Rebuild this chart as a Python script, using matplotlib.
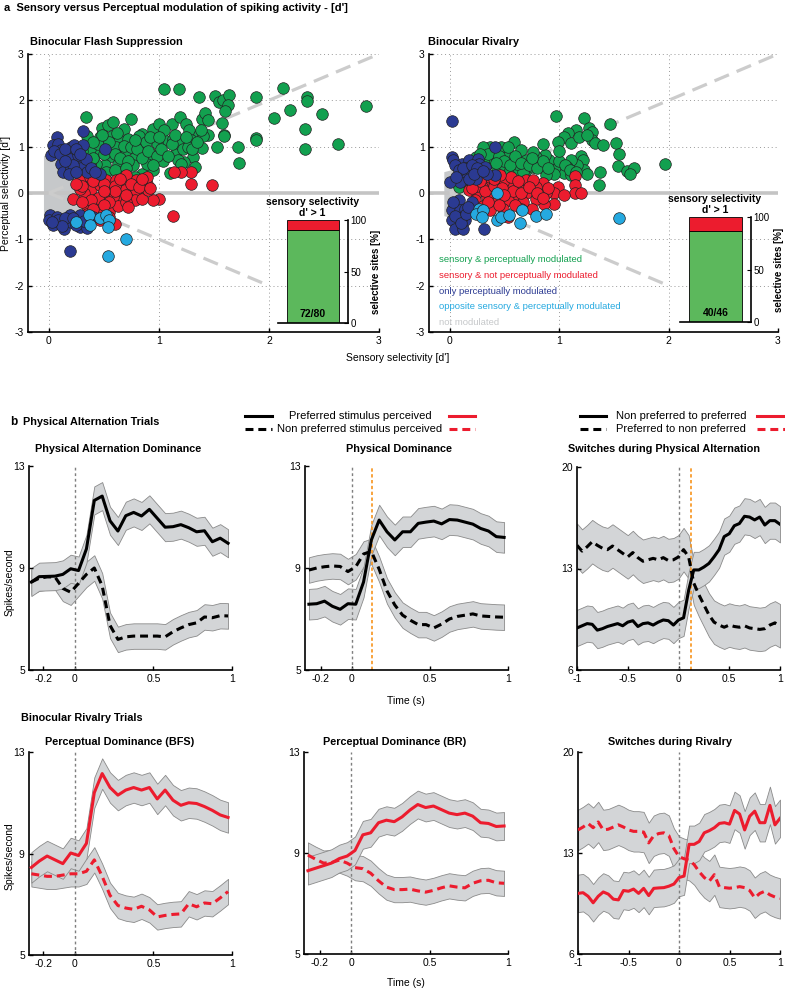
import numpy as np
import matplotlib
matplotlib.use("Agg")
import matplotlib.pyplot as plt
from matplotlib.lines import Line2D

plt.rcParams['font.family'] = ['Liberation Sans', 'DejaVu Sans']
plt.rcParams['font.size'] = 7

# ---------------- panel a data (d') ----------------
bfs_green_x = [1.045, 1.18, 1.36, 1.51, 1.55, 1.58, 1.64, 1.63, 1.6, 1.88, 2.13, 2.35, 2.35, 2.19, 2.48, 2.88,
               2.05, 2.33, 0.34, 0.48, 0.54, 0.58, 0.68, 0.75, 0.85, 0.95, 1.0, 1.12, 1.19, 1.25, 1.27, 1.39,
               1.42, 1.45, 1.57, 1.59, 1.88, 1.36, 1.45, 2.63, 2.33, 1.88, 1.72, 1.73, 1.53, 1.59, 1.39, 1.31,
               1.23, 1.16, 1.10, 1.05, 0.98, 0.93, 0.85, 0.95, 0.89, 0.79, 0.76, 0.70, 0.63, 0.55, 0.51, 0.46,
               0.43, 0.37, 0.35, 0.46, 0.57, 0.64, 0.72, 0.82, 1.13, 1.19, 1.29, 1.40, 1.17, 1.33, 0.64, 0.52,
               0.78, 1.2, 1.04, 0.82, 0.61, 0.37,
               0.4, 0.45, 0.5, 0.55, 0.6, 0.65, 0.68, 0.72, 0.75, 0.8, 0.85, 0.88, 0.9, 0.98, 1.02, 1.08,
               1.12, 1.15, 1.22, 1.26, 1.3, 1.35, 1.38, 1.05, 0.92, 0.78, 0.62, 0.48, 0.4, 0.95, 0.6, 0.7,
               1.0, 1.25, 0.3]
bfs_green_y = [2.25, 2.25, 2.08, 2.1, 1.96, 2.0, 2.12, 1.9, 1.77, 2.08, 2.26, 2.08, 1.99, 1.79, 1.7, 1.88,
               1.61, 1.38, 1.64, 1.4, 1.47, 1.54, 1.38, 1.59, 1.27, 1.38, 1.48, 1.48, 1.64, 1.48, 1.36, 1.59,
               1.72, 1.58, 1.52, 1.25, 1.18, 1.25, 1.25, 1.05, 0.94, 1.15, 1.0, 0.65, 0.99, 1.22, 0.98, 0.78,
               0.67, 0.91, 0.43, 1.14, 1.08, 0.85, 0.42, 0.49, 0.63, 0.81, 0.6, 0.92, 0.63, 0.78, 0.6, 0.88,
               0.63, 0.96, 1.22, 1.21, 1.24, 1.14, 1.17, 1.24, 1.17, 1.06, 1.14, 1.24, 0.72, 0.56, 0.45, 0.45,
               0.35, 0.63, 0.7, 1.03, 0.99, 0.63,
               0.75, 1.05, 0.85, 1.1, 0.85, 0.75, 1.02, 0.68, 1.0, 0.95, 0.75, 1.1, 0.9, 0.8, 0.95, 0.8,
               1.05, 1.25, 0.95, 1.0, 0.95, 1.1, 1.35, 1.35, 1.2, 1.15, 1.3, 1.25, 1.1, 0.6, 0.5, 0.55,
               1.2, 1.2, 0.9]
bfs_red_x = [1.29, 1.2, 1.14, 1.29, 1.48, 1.0, 0.95, 1.13, 0.22, 0.34, 0.38, 0.46, 0.55, 0.63, 0.70, 0.79,
             0.89, 0.85, 0.75, 0.66, 0.58, 0.49, 0.42, 0.35, 0.43, 0.49, 0.55, 0.46, 0.6, 0.55, 0.29, 0.37,
             0.46, 0.52, 0.61, 0.69, 0.79, 0.78, 0.85, 0.32, 0.28, 0.63, 0.70, 0.35, 0.9, 0.70, 0.89,
             0.3, 0.4, 0.5, 0.6, 0.65, 0.75, 0.82, 0.92, 0.55, 0.45, 0.38, 0.7, 0.6, 0.5, 0.4, 0.3,
             0.25, 0.85, 0.72, 0.5]
bfs_red_y = [0.45, 0.45, 0.45, 0.2, 0.17, -0.12, -0.16, -0.5, -0.14, 0.2, 0.09, 0.17, 0.09, 0.02, 0.17, 0.27,
             0.2, 0.02, -0.05, -0.12, -0.09, -0.05, -0.16, -0.27, -0.3, -0.37, -0.4, -0.59, -0.66, -0.52, 0.31, 0.35,
             0.31, 0.27, 0.27, 0.06, 0.06, -0.16, -0.14, -0.01, 0.09, -0.27, -0.19, -0.45, 0.06, 0.38, 0.35,
             0.15, 0.25, 0.2, 0.15, 0.3, 0.2, 0.12, 0.1, -0.2, -0.1, -0.15, -0.05, 0.05, 0.05, -0.35, -0.2,
             0.2, 0.3, -0.3, -0.25]
bfs_blue_x = [0.07, 0.31, 0.04, 0.08, 0.02, 0.11, 0.2, 0.23, 0.31, 0.51, 0.17, 0.19, 0.11, 0.13, 0.2, 0.28,
              0.29, 0.35, 0.46, 0.26, 0.34, 0.01, 0.0, 0.07, 0.11, 0.14, 0.2, 0.28, 0.28, 0.19, 0.04, 0.19,
              0.35, 0.4,
              0.05, 0.1, 0.15, 0.25, 0.28, 0.22, 0.15, 0.18, 0.25, 0.38, 0.42, 0.08, 0.15, 0.22, 0.12, 0.25,
              0.32, 0.03]
bfs_blue_y = [1.21, 1.34, 1.03, 1.06, 0.81, 0.92, 0.99, 1.03, 1.03, 0.96, 0.85, 0.74, 0.63, 0.45, 0.53, 0.63,
              0.53, 0.45, 0.42, 0.81, 0.74, -0.48, -0.59, -0.52, -0.66, -0.77, -0.63, -0.73, -0.48, -0.48, -0.7, -1.25,
              -0.75, -0.52,
              0.9, 0.85, 0.95, 0.95, 0.85, 0.6, 0.7, 0.4, 0.45, 0.55, 0.45, -0.58, -0.55, -0.55, -0.72, -0.7,
              -0.6, -0.62]
bfs_cyan_x = [0.25, 0.36, 0.37, 0.46, 0.52, 0.55, 0.54, 0.70, 0.54]
bfs_cyan_y = [-0.63, -0.48, -0.7, -0.53, -0.48, -0.59, -0.73, -1.0, -1.35]
bfs_gray_x = [-0.045, 0.05, 0.15, 0.3, 0.33, 0.3, 0.2, 0.05, -0.045]
bfs_gray_y = [0.8, 0.85, 0.5, 0.3, 0.0, -0.35, -0.5, -0.55, -0.5]
bfs_counts = [72, 80]

br_green_x = [0.97, 1.23, 1.46, 1.27, 1.30, 1.15, 1.08, 1.04, 1.11, 0.99, 1.30, 1.33, 1.40, 1.52, 1.55, 1.54,
              1.62, 1.68, 1.65, 1.97, 1.37, 1.36, 1.20, 1.22, 1.23, 1.25, 1.16, 1.11, 1.07, 1.04, 0.96, 0.95,
              0.91, 0.87, 0.85, 0.79, 0.76, 0.70, 0.70, 0.76, 0.59, 0.65, 0.56, 0.52, 0.47, 0.47, 0.37, 0.30,
              0.40, 0.24, 0.34, 0.43, 0.50, 0.55, 0.63, 0.67, 0.84, 0.88, 0.61, 0.08, 1.11, 0.37,
              0.3, 0.35, 0.45, 0.5, 0.55, 0.6, 0.65, 0.72, 0.8, 0.85, 0.9, 1.0, 1.05, 1.1, 1.15, 0.42,
              0.28, 0.53, 0.75, 1.18, 1.25, 1.0]
br_green_y = [1.67, 1.61, 1.5, 1.41, 1.32, 1.36, 1.3, 1.21, 1.07, 1.1, 1.14, 1.07, 1.03, 1.07, 0.85, 0.58,
              0.48, 0.53, 0.4, 0.63, 0.45, 0.17, 0.79, 0.71, 0.49, 0.42, 0.6, 0.71, 0.56, 0.44, 0.56, 0.42,
              0.71, 0.81, 1.05, 0.78, 0.89, 0.71, 0.49, 0.56, 1.1, 0.92, 0.71, 0.85, 0.71, 0.99, 0.99, 0.99,
              0.85, 0.78, 0.63, 0.56, 0.6, 0.49, 0.49, 0.45, 0.56, 0.38, 0.63, 0.14, 0.38, 0.78,
              0.7, 0.85, 0.8, 0.7, 0.6, 0.8, 0.65, 0.6, 0.55, 0.7, 0.55, 0.7, 0.6, 0.5, 0.45, 0.65,
              0.85, 1.0, 0.75, 1.2, 1.25, 0.9]
br_red_x = [1.14, 1.14, 1.14, 1.2, 0.99, 0.95, 0.95, 0.86, 0.88, 0.85, 0.79, 0.79, 0.75, 0.70, 0.67, 0.63,
            0.59, 0.55, 0.53, 0.49, 0.44, 0.41, 0.37, 0.34, 0.29, 0.24, 0.18, 0.23, 0.30, 0.37, 0.49, 0.53,
            0.70, 0.76, 0.56, 0.46, 0.37, 0.27, 0.2, 0.65, 1.04,
            0.25, 0.32, 0.4, 0.48, 0.58, 0.65, 0.72, 0.8, 0.9, 0.5, 0.45, 0.6, 0.35, 0.28, 0.62, 0.4,
            0.85, 0.2]
br_red_y = [0.36, 0.17, -0.01, 0.0, 0.14, -0.01, -0.23, -0.23, -0.01, 0.22, 0.13, -0.12, -0.34, -0.01, -0.19, 0.13,
            -0.05, 0.13, -0.16, 0.24, 0.02, -0.16, 0.17, -0.09, 0.13, -0.01, 0.06, -0.16, -0.27, -0.37, -0.34, -0.52,
            0.27, 0.27, 0.35, 0.38, 0.35, 0.35, 0.24, -0.34, -0.05,
            0.15, 0.05, 0.15, 0.1, 0.05, 0.0, 0.12, 0.0, 0.1, -0.05, -0.25, -0.25, -0.2, 0.25, 0.25, 0.3,
            -0.1, 0.1]
br_blue_x = [0.02, 0.41, 0.02, 0.03, 0.11, 0.18, 0.26, 0.27, 0.32, 0.15, 0.11, 0.18, 0.23, 0.24, 0.14, 0.09,
             0.0, 0.41, 0.34, 0.02, 0.08, 0.09, 0.02, 0.05, 0.12, 0.14, 0.11, 0.2, 0.31, 0.14,
             0.05, 0.08, 0.12, 0.2, 0.25, 0.18, 0.06, 0.22, 0.3, 0.05, 0.1, 0.15, 0.03, 0.17]
br_blue_y = [1.55, 0.99, 0.78, 0.71, 0.63, 0.71, 0.74, 0.63, 0.56, 0.53, 0.42, 0.42, 0.49, 0.31, 0.31, 0.24,
             0.24, 0.38, 0.42, -0.37, -0.16, -0.37, -0.59, -0.77, -0.77, -0.59, -0.52, -0.19, -0.77, -0.34,
             0.6, 0.5, 0.55, 0.6, 0.55, 0.3, 0.35, 0.4, 0.48, -0.5, -0.65, -0.45, -0.2, -0.3]
br_cyan_x = [0.43, 0.27, 0.24, 0.30, 0.29, 0.43, 0.47, 0.54, 0.64, 0.66, 0.79, 0.88, 1.55]
br_cyan_y = [-0.01, -0.34, -0.45, -0.37, -0.52, -0.59, -0.52, -0.48, -0.65, -0.36, -0.5, -0.46, -0.53]
br_gray_x = [-0.05, 0.03, 0.1, 0.12, 0.1, 0.03, -0.05]
br_gray_y = [0.45, 0.5, 0.3, 0.0, -0.4, -0.55, -0.5]
br_counts = [40, 46]

legend_labels = ['sensory & perceptually modulated', 'sensory & not perceptually modulated',
                 'only perceptually modulated', 'opposite sensory & perceptually modulated', 'not modulated']

# ---------------- panel b data (spikes/s) ----------------
t_short = [-0.275, -0.225, -0.175, -0.125, -0.075, -0.025, 0.025, 0.075, 0.125, 0.175, 0.225, 0.275, 0.325,
           0.375, 0.425, 0.475, 0.525, 0.575, 0.625, 0.675, 0.725, 0.775, 0.825, 0.875, 0.925, 0.975]
t_long = [-1.0, -0.95, -0.9, -0.85, -0.8, -0.75, -0.7, -0.65, -0.6, -0.55, -0.5, -0.45, -0.4, -0.35, -0.3,
          -0.25, -0.2, -0.15, -0.1, -0.05, 0.0, 0.05, 0.1, 0.15, 0.2, 0.25, 0.3, 0.35, 0.4, 0.45, 0.5, 0.55,
          0.6, 0.65, 0.7, 0.75, 0.8, 0.85, 0.9, 0.95, 1.0]

pa_dom_pref = [8.45, 8.66, 8.67, 8.68, 8.75, 8.97, 8.9, 9.75, 11.65, 11.82, 10.85, 10.45, 11.05, 11.18, 11.04,
               11.3, 10.95, 10.6, 10.62, 10.7, 10.58, 10.42, 10.46, 10.03, 10.17, 9.97]
pa_dom_npref = [8.45, 8.6, 8.65, 8.65, 8.2, 8.05, 8.4, 8.75, 9.0, 8.3, 6.75, 6.2, 6.3, 6.33, 6.33, 6.33, 6.33,
                6.3, 6.5, 6.65, 6.78, 6.85, 7.08, 7.05, 7.13, 7.12]
ph_dom_pref = [7.58, 7.6, 7.7, 7.5, 7.38, 7.6, 7.58, 8.45, 10.1, 10.88, 10.42, 10.1, 10.42, 10.42, 10.75, 10.8,
               10.84, 10.73, 10.9, 10.88, 10.8, 10.72, 10.55, 10.45, 10.23, 10.2]
ph_dom_npref = [8.92, 9.0, 9.05, 9.08, 9.06, 8.86, 9.05, 9.55, 9.65, 8.95, 8.1, 7.55, 7.15, 6.95, 6.78, 6.78,
                6.65, 6.8, 7.0, 7.1, 7.15, 7.2, 7.12, 7.1, 7.08, 7.07]
ph_sw_to_pref = [8.9, 9.05, 9.2, 9.15, 8.75, 8.85, 9.0, 9.1, 9.2, 9.05, 9.3, 9.4, 9.0, 9.2, 9.25, 9.1, 9.3, 9.45,
                 9.4, 9.1, 9.45, 9.6, 11.5, 12.9, 12.9, 13.1, 13.35, 13.8, 14.3, 15.2, 15.4, 15.95, 16.1, 16.6,
                 16.55, 16.35, 16.55, 16.0, 16.3, 16.3, 16.05]
ph_sw_to_npref = [14.6, 14.2, 14.5, 14.85, 14.6, 14.4, 14.3, 14.55, 14.3, 14.05, 13.8, 14.1, 13.75, 13.5, 13.6,
                  13.7, 13.6, 13.75, 13.55, 13.6, 13.8, 14.3, 13.8, 12.0, 11.2, 10.5, 9.8, 9.3, 9.1, 8.95, 9.1,
                  9.0, 8.95, 9.05, 8.9, 8.85, 8.8, 8.85, 9.1, 9.25, 9.05]
bfs_dom_pref = [8.45, 8.7, 8.9, 8.75, 8.6, 9.02, 8.92, 9.4, 11.4, 12.15, 11.6, 11.3, 11.5, 11.6, 11.5, 11.6,
                11.15, 11.5, 11.1, 10.9, 11.0, 10.97, 10.85, 10.7, 10.52, 10.42]
bfs_dom_npref = [8.2, 8.15, 8.1, 8.1, 8.15, 8.2, 8.2, 8.3, 8.75, 8.1, 7.35, 6.95, 6.85, 6.8, 6.92, 6.78, 6.5,
                 6.56, 6.6, 6.62, 7.02, 6.9, 7.05, 7.02, 7.25, 7.5]
br_dom_pref = [8.3, 8.4, 8.5, 8.6, 8.78, 8.88, 9.1, 9.72, 9.8, 10.2, 10.3, 10.24, 10.43, 10.7, 10.92, 10.8,
               10.86, 10.72, 10.58, 10.52, 10.58, 10.46, 10.2, 10.17, 10.05, 10.07]
br_dom_npref = [8.92, 8.75, 8.6, 8.62, 8.72, 8.6, 8.42, 8.38, 8.2, 7.9, 7.65, 7.55, 7.55, 7.57, 7.5, 7.45, 7.52,
                7.62, 7.7, 7.65, 7.62, 7.8, 7.9, 7.92, 7.82, 7.8]
br_sw_to_pref = [10.2, 10.25, 10.0, 9.55, 10.0, 10.3, 10.15, 9.8, 9.75, 10.4, 10.35, 10.5, 10.2, 10.55, 10.05,
                 10.55, 10.58, 10.6, 10.7, 10.85, 11.3, 11.4, 13.6, 13.6, 13.8, 14.4, 14.55, 14.75, 15.05, 15.1,
                 15.0, 15.95, 15.7, 14.6, 15.55, 15.9, 15.1, 15.1, 16.3, 14.95, 15.4]
br_sw_to_npref = [14.6, 14.8, 15.05, 14.75, 15.15, 14.6, 14.65, 14.8, 14.95, 14.8, 14.6, 14.5, 14.5, 14.45,
                  13.7, 14.2, 14.35, 14.4, 14.2, 13.3, 12.75, 12.6, 12.5, 12.2, 11.7, 11.3, 11.05, 11.5, 10.65,
                  10.6, 10.56, 10.6, 10.67, 10.6, 10.4, 9.9, 10.2, 10.35, 10.1, 9.95, 9.85]
# standard error half-widths (solid, dashed)
sem_pa_dom = [0.55, 0.5]
sem_ph_dom = [0.6, 0.5]
sem_ph_sw = [1.25, 1.5]
sem_bfs_dom = [0.6, 0.5]
sem_br_dom = [0.55, 0.5]
sem_br_sw = [1.3, 1.4]

GREEN = '#12a04f'
RED = '#ec1c2e'
BLUE = '#2b3a92'
CYAN = '#25a9e0'
GRAY = '#c6c8ca'
BAR_GREEN = '#5cb85c'
ORANGE = '#f7941d'

W, H = 785, 989
fig = plt.figure(figsize=(W / 100, H / 100), dpi=100)


def px_axes(l, t, r, b):
    return fig.add_axes([l / W, 1 - b / H, (r - l) / W, (b - t) / H])


def ftext(x, y, s, **kw):
    fig.text(x / W, 1 - y / H, s, **kw)


def scatter_panel(ax, g, r, bl, c, gray, counts, inset_box, show_legend):
    ax.set_xlim(-0.19, 3)
    ax.set_ylim(-3, 3)
    ax.set_xticks([0, 1, 2, 3])
    ax.set_yticks([-3, -2, -1, 0, 1, 2, 3])
    ax.set_xticklabels(['0', '1', '2', '3'])
    ax.set_yticklabels(['-3', '-2', '-1', '0', '1', '2', '3'])
    ax.grid(True, linestyle=(0, (1, 3)), color='#999999', linewidth=0.7)
    ax.set_axisbelow(True)
    for s in ['top', 'right']:
        ax.spines[s].set_visible(False)
    for s in ['left', 'bottom']:
        ax.spines[s].set_linewidth(1.2)
    ax.tick_params(direction='in', length=3, width=1, labelsize=7.5, pad=3)
    ax.fill(gray[0], gray[1], color=GRAY, zorder=1, lw=0)
    ax.axhline(0, color='#c4c4c4', lw=2.6, zorder=1)
    ax.plot([0, 3], [0, 3], color='#cccccc', lw=2.3, dashes=(4.9, 2.6), zorder=1)
    ax.plot([0, 2], [0, -2], color='#cccccc', lw=2.3, dashes=(4.9, 2.6), zorder=1)
    for (xs, ys), col in zip([g, r, bl, c], [GREEN, RED, BLUE, CYAN]):
        ax.scatter(xs, ys, s=70, color=col, edgecolor='#222222', linewidth=0.5, zorder=3)
    if show_legend:
        ycoords = [-1.43, -1.78, -2.12, -2.46, -2.8]
        for lab, yy, col in zip(legend_labels, ycoords, [GREEN, RED, BLUE, CYAN, GRAY]):
            ax.text(-0.095, yy, lab, color=col, fontsize=6.8, va='center', ha='left', zorder=4)

    # inset bar
    l, t, rr, b = inset_box
    ins = px_axes(l, t, rr, b)
    frac = counts[0] / counts[1] * 100
    ins.bar([0.5], [frac], width=0.74, color=BAR_GREEN, edgecolor='black', linewidth=0.6)
    ins.bar([0.5], [100 - frac], bottom=[frac], width=0.74, color=RED, edgecolor='black', linewidth=0.6)
    ins.set_xlim(0, 1)
    ins.set_ylim(0, 100)
    ins.set_xticks([])
    ins.set_yticks([0, 50, 100])
    ins.yaxis.tick_right()
    ins.yaxis.set_label_position('right')
    ins.tick_params(axis='y', direction='in', length=3, labelsize=7, pad=2)
    for s in ['top', 'left']:
        ins.spines[s].set_visible(False)
    ins.spines['right'].set_linewidth(1.2)
    ins.spines['bottom'].set_linewidth(1.2)
    ins.patch.set_alpha(0)
    ins.set_ylabel('selective sites [%]', fontsize=7, fontweight='bold', labelpad=3)
    ins.text(0.5, 4, f'{counts[0]}/{counts[1]}', ha='center', va='bottom', fontsize=7.5, fontweight='bold')
    cx = (l + rr) / 2 - 0.5
    ftext(cx, t - 18, 'sensory selectivity', fontsize=7.5, fontweight='bold', ha='center', va='center')
    ftext(cx, t - 7, "d' > 1", fontsize=7.5, fontweight='bold', ha='center', va='center')


# ---------------- panel a ----------------
ftext(4, 8, "a  Sensory versus Perceptual modulation of spiking activity - [d']", fontsize=8,
      fontweight='bold', va='center', ha='left')
ftext(30, 42, 'Binocular Flash Suppression', fontsize=7.9, fontweight='bold', va='center')
ftext(428, 42, 'Binocular Rivalry', fontsize=7.9, fontweight='bold', va='center')

ax1 = px_axes(28, 54, 379, 332)
scatter_panel(ax1, (bfs_green_x, bfs_green_y), (bfs_red_x, bfs_red_y), (bfs_blue_x, bfs_blue_y),
              (bfs_cyan_x, bfs_cyan_y), (bfs_gray_x, bfs_gray_y), bfs_counts, (278, 220, 348, 323), False)
ftext(6, 193, "Perceptual selectivity [d']", fontsize=7.5, rotation=90, ha='center', va='center')

ax2 = px_axes(429, 54, 778, 332)
scatter_panel(ax2, (br_green_x, br_green_y), (br_red_x, br_red_y), (br_blue_x, br_blue_y),
              (br_cyan_x, br_cyan_y), (br_gray_x, br_gray_y), br_counts, (680, 217, 751, 322), True)
ftext(398, 358, "Sensory selectivity [d']", fontsize=7.5, ha='center', va='center')

# ---------------- panel b ----------------
ftext(10, 422, 'b', fontsize=8.5, fontweight='bold', va='center')
ftext(23, 422, 'Physical Alternation Trials', fontsize=7.8, fontweight='bold', va='center')
ftext(21, 718, 'Binocular Rivalry Trials', fontsize=7.8, fontweight='bold', va='center')


def fig_line(x0, x1, y, color, dashed):
    kw = dict(dashes=(2.6, 1.6)) if dashed else {}
    fig.add_artist(Line2D([x0 / W, x1 / W], [1 - y / H, 1 - y / H], color=color, lw=2.2, **kw))


for (lx0, lx1, rx0, rx1, cx, labels) in [
        (245, 272, 449, 475, 360, ['Preferred stimulus perceived', 'Non preferred stimulus perceived']),
        (580, 606, 757, 785, 681, ['Non preferred to preferred', 'Preferred to non preferred'])]:
    for yy, lab, dashed in zip([416, 429], labels, [False, True]):
        fig_line(lx0, lx1, yy, 'black', dashed)
        fig_line(rx0, rx1, yy, RED, dashed)
        ftext(cx, yy, lab, fontsize=8, ha='center', va='center')


def line_panel(box, t, pref, npref, sem, color, xlim, yticks, xticks, xlabels, title, tcx, tcy, orange):
    ax = px_axes(*box)
    pref = np.array(pref)
    npref = np.array(npref)
    for ser, e in [(npref, sem[1]), (pref, sem[0])]:
        ax.fill_between(t, ser - e, ser + e, facecolor='#d3d5d7', edgecolor='#8a8a8a', lw=0.6, zorder=1)
    ax.axvline(0, color='#7f7f7f', lw=1, linestyle=(0, (2, 2)), zorder=2)
    if orange is not None:
        ax.axvline(orange, color=ORANGE, lw=1.2, linestyle=(0, (2, 1.5)), zorder=2)
    ax.plot(t, npref, color=color, lw=2.2, dashes=(2.6, 1.6), zorder=3)
    ax.plot(t, pref, color=color, lw=2.2, zorder=3)
    ax.set_xlim(*xlim)
    ax.set_ylim(yticks[0], yticks[-1])
    ax.set_yticks(yticks)
    ax.set_yticklabels([str(v) for v in yticks])
    ax.set_xticks(xticks)
    ax.set_xticklabels(xlabels)
    for s in ['top', 'right']:
        ax.spines[s].set_visible(False)
    for s in ['left', 'bottom']:
        ax.spines[s].set_linewidth(1.2)
    ax.tick_params(direction='in', length=3, width=1, labelsize=7.5, pad=3)
    ftext(tcx, tcy, title, fontsize=7.8, fontweight='bold', ha='center', va='center')
    return ax


xt_s = [-0.2, 0, 0.5, 1]
xl_s = ['-0.2', '0', '0.5', '1']
xt_l = [-1, -0.5, 0, 0.5, 1]
xl_l = ['-1', '-0.5', '0', '0.5', '1']

line_panel((29, 466, 232, 670), t_short, pa_dom_pref, pa_dom_npref, sem_pa_dom, 'black', (-0.29, 1),
           [5, 9, 13], xt_s, xl_s, 'Physical Alternation Dominance', 118, 449, None)
line_panel((305, 466, 508, 670), t_short, ph_dom_pref, ph_dom_npref, sem_ph_dom, 'black', (-0.3, 1),
           [5, 9, 13], xt_s, xl_s, 'Physical Dominance', 399, 449, 0.128)
line_panel((577, 467, 780, 670), t_long, ph_sw_to_pref, ph_sw_to_npref, sem_ph_sw, 'black', (-1, 1),
           [6, 13, 20], xt_l, xl_l, 'Switches during Physical Alternation', 664, 449, 0.12)
line_panel((29, 752, 232, 955), t_short, bfs_dom_pref, bfs_dom_npref, sem_bfs_dom, RED, (-0.29, 1),
           [5, 9, 13], xt_s, xl_s, 'Perceptual Dominance (BFS)', 120, 742, None)
line_panel((304, 752, 508, 954), t_short, br_dom_pref, br_dom_npref, sem_br_dom, RED, (-0.3, 1),
           [5, 9, 13], xt_s, xl_s, 'Perceptual Dominance (BR)', 395, 742, None)
line_panel((578, 752, 780, 954), t_long, br_sw_to_pref, br_sw_to_npref, sem_br_sw, RED, (-1, 1),
           [6, 13, 20], xt_l, xl_l, 'Switches during Rivalry', 670, 742, None)

ftext(10, 582, 'Spikes/second', fontsize=7.5, rotation=90, ha='center', va='center')
ftext(10, 856, 'Spikes/second', fontsize=7.5, rotation=90, ha='center', va='center')
ftext(406, 701, 'Time (s)', fontsize=7.5, ha='center', va='center')
ftext(406, 983, 'Time (s)', fontsize=7.5, ha='center', va='center')

fig.savefig('out.png', dpi=100)
